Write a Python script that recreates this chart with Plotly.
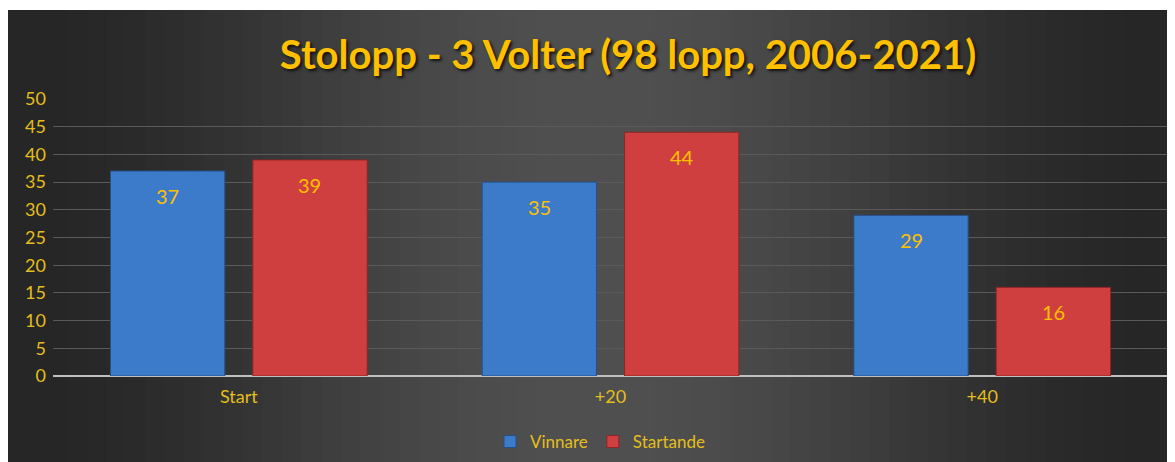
import math
import plotly.graph_objects as go

categories = ["Start", "+20", "+40"]
vinnare = [37, 35, 29]
startande = [39, 44, 16]
y_ticks = [0, 5, 10, 15, 20, 25, 30, 35, 40, 45, 50]
title_text = "Stolopp - 3 Volter (98 lopp, 2006-2021)"

GOLD = "#FFC000"
TICK = "#E3BE1C"
FONT = "Lato"

fig = go.Figure()
fig.add_trace(go.Bar(name="Vinnare", x=categories, y=vinnare,
                     marker=dict(color="#3C7ACA", line=dict(color="#24508A", width=1))))
fig.add_trace(go.Bar(name="Startande", x=categories, y=startande,
                     marker=dict(color="#D03F3F", line=dict(color="#8E2626", width=1))))

# data labels (x given as category index so "+20" is not parsed as a number)
for vals, shift in ((vinnare, -71), (startande, 71)):
    for i, v in enumerate(vals):
        fig.add_annotation(x=i, y=v, xref="x", yref="y", text=str(v), showarrow=False,
                           xshift=shift, yshift=-25,
                           font=dict(family=FONT, size=20, color=GOLD))

# figure coords (page has 8px body margin)
L, R, T, B = 45, 15, 91, 94
W, H = 1175, 462
pw, ph = W - L - R, H - T - B
def px(xp): return (xp - L) / pw
def py(yp): return (H - B - yp) / ph

shapes = []
x0p, x1p = 0, 1175
n = 60
def shade(t):
    c = 0.5 - 0.5 * math.cos(2 * math.pi * t)
    lo, hi = 38, 80
    v = int(lo + (hi - lo) * c)
    return f"rgb({v},{v},{v})"
for i in range(n):
    a = x0p + (x1p - x0p) * i / n
    b = x0p + (x1p - x0p) * (i + 1) / n + 1
    t = (i + 0.5) / n
    shapes.append(dict(type="rect", xref="paper", yref="paper", x0=px(a), x1=px(b),
                       y0=py(H), y1=py(2), fillcolor=shade(t), line=dict(width=0),
                       layer="below"))
fig.update_layout(shapes=shapes)

fig.update_layout(
    width=W, height=H,
    margin=dict(l=L, r=R, t=T, b=B, autoexpand=False),
    paper_bgcolor="white",
    plot_bgcolor="rgba(0,0,0,0)",
    barmode="group",
    bargap=0.234,
    bargroupgap=0.197,
    title=dict(text=f"<b>{title_text}</b>", x=620 / W, xanchor="center", y=1 - 47 / H,
               yanchor="middle",
               font=dict(family=FONT, size=40, color=GOLD, shadow="2px 2px 3px #111")),
    showlegend=True,
    legend=dict(orientation="h", x=px(592), xanchor="center", y=py(434), yanchor="middle",
                font=dict(family=FONT, size=17, color=TICK), bgcolor="rgba(0,0,0,0)",
                itemwidth=30, traceorder="normal"),
    xaxis=dict(type="category", range=[-0.5, 2.5], showgrid=False, showline=False, ticks="",
               zeroline=False, tickangle=0, automargin=False,
               tickfont=dict(family=FONT, size=18, color=TICK), ticklabelstandoff=8),
    yaxis=dict(range=[0, 50], tickvals=y_ticks, showgrid=True, gridcolor="#5A5A5A",
               gridwidth=1, zeroline=True, zerolinecolor="#C0C0C0", zerolinewidth=2,
               automargin=False,
               tickfont=dict(family=FONT, size=18, color=TICK), ticks="", ticklabelstandoff=6),
)

fig.write_html("out.html")
